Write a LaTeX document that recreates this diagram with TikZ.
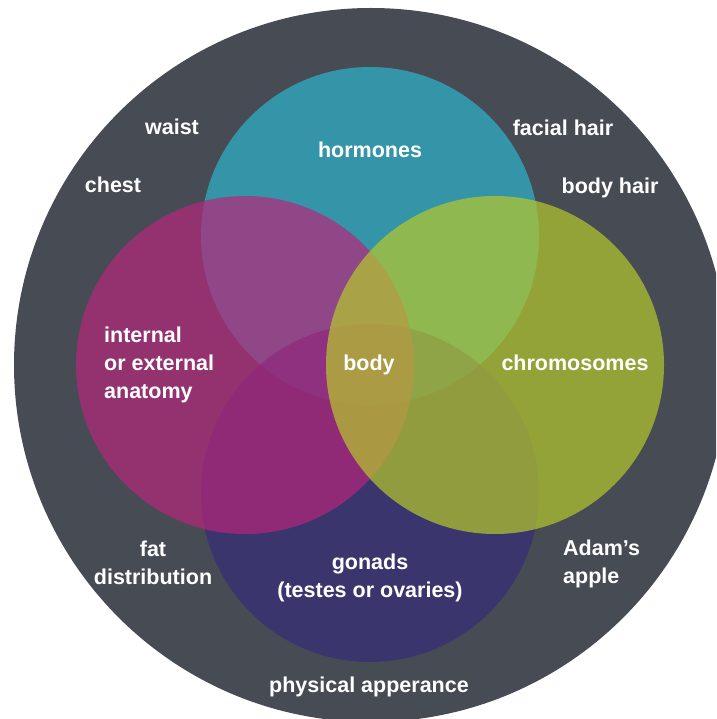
\documentclass[tikz,border=0pt]{standalone}
\usepackage{fontspec}
\setmainfont{Liberation Sans}
\definecolor{ringbg}{RGB}{71,75,84}
\definecolor{hormc}{RGB}{45,181,204}
\definecolor{gonc}{RGB}{55,45,121}
\definecolor{anatc}{RGB}{182,38,123}
\definecolor{chromc}{RGB}{182,201,44}
\begin{document}
\begin{tikzpicture}[x=1pt,y=-1pt,
  lbl/.style={text=white, font=\fontsize{21.5}{28}\selectfont\bfseries, inner sep=0pt},
  venn/.style={fill opacity=0.7}]
\useasboundingbox (0,0) rectangle (716,719);
\clip (0,0) rectangle (716,719);
\fill[ringbg] (371,365) circle [radius=357];
\fill[hormc, venn] (370,236) circle [radius=169];
\fill[gonc, venn] (370,493) circle [radius=169];
\fill[anatc, venn] (245,365) circle [radius=169];
\fill[chromc, venn] (495,365) circle [radius=169];
\node[lbl, anchor=base] (waist) at (172,135) {waist};
\node[lbl, anchor=base] (chest) at (113,193) {chest};
\node[lbl, anchor=base] (horm) at (370,158) {hormones};
\node[lbl, anchor=base] (facial) at (563,136) {facial hair};
\node[lbl, anchor=base] (bodyhair) at (610,194) {body hair};
\node[lbl, anchor=base west, align=left] (anat) at (104,398) {internal\\or external\\anatomy};
\node[lbl, anchor=base] (body) at (369,370) {body};
\node[lbl, anchor=base] (chrom) at (575,370) {chromosomes};
\node[lbl, anchor=base, align=center] (fat) at (153,584) {fat\\distribution};
\node[lbl, anchor=base, align=center] (gon) at (370,597) {gonads\\(testes or ovaries)};
\node[lbl, anchor=base west, align=left] (adam) at (563,583) {Adam’s\\apple};
\node[lbl, anchor=base] (phys) at (369,692) {physical apperance};
\end{tikzpicture}
\end{document}
